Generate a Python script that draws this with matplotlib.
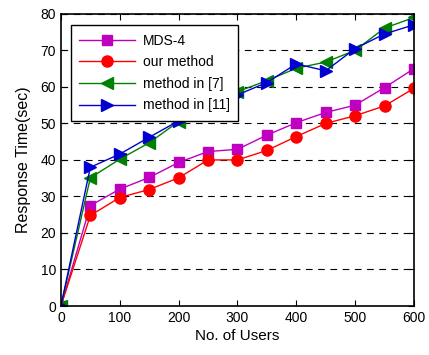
import matplotlib
matplotlib.use("Agg")
import matplotlib.pyplot as plt

plt.rcParams['font.family'] = ['Liberation Sans', 'DejaVu Sans']

users = [0, 50, 100, 150, 200, 250, 300, 350, 400, 450, 500, 550, 600]
mds4 = [0, 27.5, 32, 35.2, 39.3, 42.3, 42.9, 46.8, 50.2, 53, 55, 59.8, 65]
our_method = [0, 24.8, 29.7, 31.9, 35.1, 40, 40, 42.6, 46.4, 50, 52.1, 54.8, 59.6]
method7 = [0, 35.1, 40.2, 44.7, 50.5, 54.8, 58.7, 61.7, 65.1, 66.8, 70, 76.1, 79]
method11 = [0, 38, 41.6, 46.2, 50.7, 54.3, 57.8, 61.2, 66.3, 64.4, 70.5, 74.5, 77]

x_ticks = [0, 100, 200, 300, 400, 500, 600]
y_ticks = [0, 10, 20, 30, 40, 50, 60, 70, 80]

fig = plt.figure(figsize=(4.29, 3.55), dpi=100)
ax = fig.add_axes([0.142, 0.138, 0.823, 0.823])

ax.plot(users, mds4, color='#c000c0', marker='s', markersize=7, lw=1, label='MDS-4')
ax.plot(users, our_method, color='#ff0000', marker='o', markersize=8, lw=1, label='our method')
ax.plot(users, method7, color='#008000', marker='<', markersize=8, lw=1, label='method in [7]')
ax.plot(users, method11, color='#0000d0', marker='>', markersize=8, lw=1, label='method in [11]')

ax.set_xlim(0, 600)
ax.set_ylim(0, 80)
ax.set_xticks(x_ticks)
ax.set_yticks(y_ticks)
ax.yaxis.grid(True, linestyle=(0, (6, 5)), color='black', lw=0.8)
ax.tick_params(direction='in', top=True, right=True, labelsize=10, length=4)
for s in ax.spines.values():
    s.set_linewidth(1.2)

ax.set_xlabel('No. of Users', fontsize=11, labelpad=3)
ax.set_ylabel('Response Time(sec)', fontsize=11.5, labelpad=7)

leg = ax.legend(loc='upper left', bbox_to_anchor=(0.028, 0.961), fontsize=10,
                frameon=True, fancybox=False, edgecolor='black', framealpha=1,
                handlelength=4.0, handletextpad=0.6, borderpad=0.6,
                labelspacing=0.55, borderaxespad=0)
leg.get_frame().set_linewidth(1.0)

fig.savefig('out.png', dpi=100)
